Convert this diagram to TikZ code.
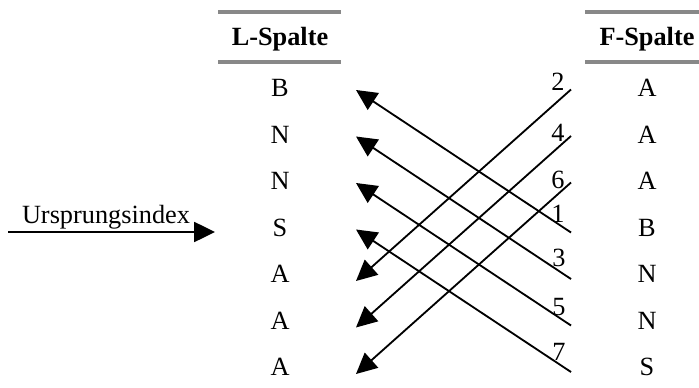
\documentclass[tikz,border=0pt]{standalone}
\usepackage{fontspec}
\setmainfont{Liberation Serif}
\usetikzlibrary{arrows.meta}
\definecolor{regelgrau}{RGB}{136,136,136}
\tikzset{
  kopf/.style={font=\fontsize{18.7}{22}\selectfont\bfseries,anchor=base,inner sep=0pt},
  zeichen/.style={inner sep=0pt},
  nummer/.style={inner sep=0pt},
  regel/.style={draw=regelgrau,line width=2.2pt},
  pfeil/.style={line width=1.3pt,-{Triangle[length=0.52cm,width=0.5cm]}}
}
\begin{document}
\begin{tikzpicture}[x=0.025cm,y=-0.025cm,font=\fontsize{18.7}{22}\selectfont]
      \useasboundingbox (0,0) rectangle (699,388);
      \draw[regel] (218,12) -- (341,12);
      \draw[regel] (218,62) -- (341,62);
      \draw[regel] (585,12) -- (699,12);
      \draw[regel] (585,62) -- (699,62);
      \node[kopf] (lkopf) at (280,46) {L-Spalte};
      \node[kopf] (fkopf) at (647,46) {F-Spalte};
      \node[zeichen] (l1) at (280,88) {B};
      \node[zeichen] (l2) at (280,134.5) {N};
      \node[zeichen] (l3) at (280,181) {N};
      \node[zeichen] (l4) at (280,227.5) {S};
      \node[zeichen] (l5) at (280,274) {A};
      \node[zeichen] (l6) at (280,320.5) {A};
      \node[zeichen] (l7) at (280,367) {A};
      \node[zeichen] (f1) at (647,88) {A};
      \node[zeichen] (f2) at (647,134.5) {A};
      \node[zeichen] (f3) at (647,181) {A};
      \node[zeichen] (f4) at (647,227.5) {B};
      \node[zeichen] (f5) at (647,274) {N};
      \node[zeichen] (f6) at (647,320.5) {N};
      \node[zeichen] (f7) at (647,367) {S};
      \node[anchor=base,inner sep=0pt] (ursprung) at (106,223) {Ursprungsindex};
      \coordinate (u0) at (8,232);
      \coordinate (u1) at (215,232);
      \draw[pfeil] (u0) -- (u1);
      \coordinate (s1) at (571,232.5);
      \coordinate (s2) at (571,89.5);
      \coordinate (s3) at (571,279);
      \coordinate (s4) at (571,136);
      \coordinate (s5) at (571,325.5);
      \coordinate (s6) at (571,182.5);
      \coordinate (s7) at (571,372);
      \coordinate (z1) at (356,90);
      \coordinate (z2) at (356,281);
      \coordinate (z3) at (356,136.5);
      \coordinate (z4) at (356,327.5);
      \coordinate (z5) at (356,183);
      \coordinate (z6) at (356,374);
      \coordinate (z7) at (356,229.5);
      \draw[pfeil] (s1) -- (z1);
      \draw[pfeil] (s2) -- (z2);
      \draw[pfeil] (s3) -- (z3);
      \draw[pfeil] (s4) -- (z4);
      \draw[pfeil] (s5) -- (z5);
      \draw[pfeil] (s6) -- (z6);
      \draw[pfeil] (s7) -- (z7);
      \node[nummer] (n2) at (558,82) {2};
      \node[nummer] (n4) at (558,133) {4};
      \node[nummer] (n6) at (558,180) {6};
      \node[nummer] (n1) at (558,214) {1};
      \node[nummer] (n3) at (559,258) {3};
      \node[nummer] (n5) at (559,307) {5};
      \node[nummer] (n7) at (559,352) {7};
    \end{tikzpicture}
\end{document}
